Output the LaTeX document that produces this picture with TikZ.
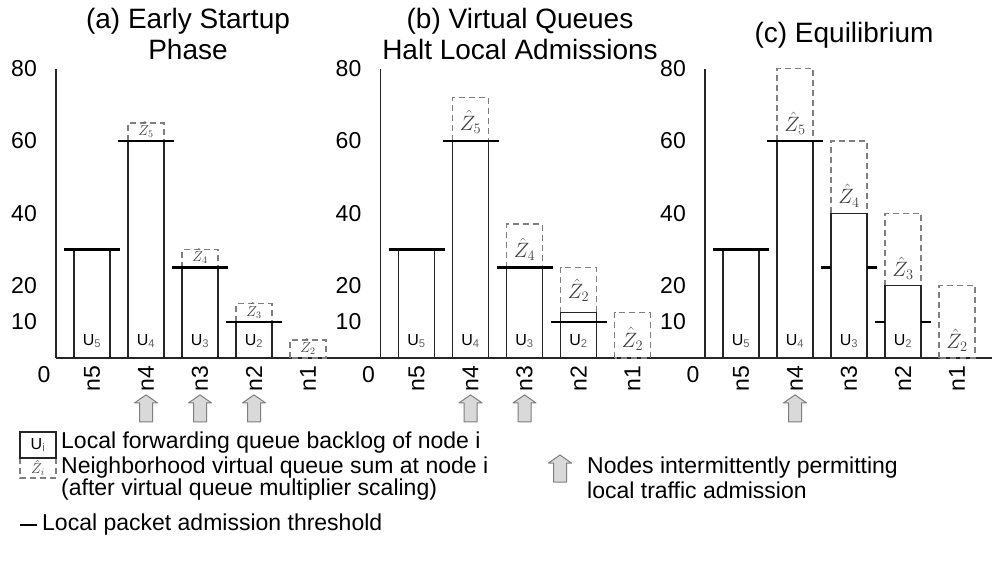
\documentclass[tikz,border=0pt]{standalone}
\usepackage{fontspec}
\setmainfont{Liberation Sans}
\definecolor{zgray}{HTML}{7F7F7F}
\definecolor{afill}{HTML}{D9D9D9}
\tikzset{
 barst/.style={draw=black!85, line width=1.4pt},
 thr/.style={draw=black, line width=2.6pt},
 zbox/.style={draw=zgray, line width=1.4pt, dash pattern=on 6pt off 4pt},
 axisst/.style={draw=black!85, line width=1.4pt},
 ttl/.style={font=\fontsize{28}{31}\selectfont, align=center, inner sep=0pt},
 tick/.style={font=\fontsize{23}{25}\selectfont, inner sep=0pt},
 ulab/.style={font=\fontsize{16}{18}\selectfont, inner sep=0pt},
 zlab/.style={font=\fontsize{20}{22}\selectfont, text=black!75, inner sep=0pt, anchor=base},
 zlabs/.style={font=\fontsize{14}{16}\selectfont, text=black!75, inner sep=0pt, anchor=base},
 leg/.style={font=\fontsize{23}{22}\selectfont, align=left, inner sep=0pt, anchor=west},
 arrst/.style={draw=zgray, fill=afill, line width=1pt, line join=round},
 uparr/.pic={\draw[arrst] (0pt,0pt) -- (11.5pt,-8pt) -- (6.5pt,-8pt) -- (6.5pt,-27pt) -- (-6.5pt,-27pt) -- (-6.5pt,-8pt) -- (-11.5pt,-8pt) -- cycle;}
}
\newcommand{\ulbl}[1]{U\textsubscript{\textcolor{black!60}{#1}}}
\begin{document}
\begin{tikzpicture}[x=1pt,y=-1pt]
\useasboundingbox[fill=white] (0,0) rectangle (992,572);

% titles
\node[ttl] (ta) at (188,34) {(a) Early Startup\\Phase};
\node[ttl] (tb) at (520,34) {(b) Virtual Queues\\Halt Local Admissions};
\node[ttl] (tc) at (844,35) {(c) Equilibrium};

% common baseline
\coordinate (bl0) at (56,358);
\coordinate (bl1) at (992,358);
\draw[axisst] (bl0) -- (bl1);

% ---------------- panel (a)
\begin{scope}[shift={(56,358)}, x=1pt, y=3.617pt]
\draw[axisst] (0,0) -- (0,80);
\node[tick, anchor=east] (a80) at (-19,80) {80};
\node[tick, anchor=east] (a60) at (-19,60) {60};
\node[tick, anchor=east] (a40) at (-19,40) {40};
\node[tick, anchor=east] (a20) at (-19,20) {20};
\node[tick, anchor=east] (a10) at (-19,10) {10};
\node[tick] (a0) at (-12,-4.7) {0};
% n5
\draw[barst] (18,0) rectangle (54,30);
\draw[thr] (8,30) -- (64,30);
% n4
\draw[zbox] (72,60) rectangle (108,65);
\draw[barst] (72,0) rectangle (108,60);
\draw[thr] (62,60) -- (118,60);
\node[zlabs] (az5) at (90,61.6) {$\hat{Z}_5$};
% n3
\draw[zbox] (126,25) rectangle (162,30);
\draw[barst] (126,0) rectangle (162,25);
\draw[thr] (116,25) -- (172,25);
\node[zlabs] (az4) at (144,26.6) {$\hat{Z}_4$};
% n2
\draw[zbox] (180,10) rectangle (216,15);
\draw[barst] (180,0) rectangle (216,10);
\draw[thr] (170,10) -- (226,10);
\node[zlabs] (az3) at (198,11.6) {$\hat{Z}_3$};
% n1
\draw[zbox] (234,0) rectangle (270,5);
\node[zlabs] (az2) at (252,1.6) {$\hat{Z}_2$};
% U labels
\node[ulab] (au5) at (36,4.7) {\ulbl{5}};
\node[ulab] (au4) at (90,4.7) {\ulbl{4}};
\node[ulab] (au3) at (144,4.7) {\ulbl{3}};
\node[ulab] (au2) at (198,4.7) {\ulbl{2}};
% ticks
\node[tick, rotate=90] (an5) at (36,-5.8) {n5};
\node[tick, rotate=90] (an4) at (90,-5.8) {n4};
\node[tick, rotate=90] (an3) at (144,-5.8) {n3};
\node[tick, rotate=90] (an2) at (198,-5.8) {n2};
\node[tick, rotate=90] (an1) at (252,-5.8) {n1};
\pic at (90,-10.2) {uparr};
\pic at (144,-10.2) {uparr};
\pic at (198,-10.2) {uparr};
\end{scope}

% ---------------- panel (b)
\begin{scope}[shift={(380.5,358)}, x=1pt, y=3.617pt]
\draw[axisst] (0,0) -- (0,80);
\node[tick, anchor=east] (b80) at (-19,80) {80};
\node[tick, anchor=east] (b60) at (-19,60) {60};
\node[tick, anchor=east] (b40) at (-19,40) {40};
\node[tick, anchor=east] (b20) at (-19,20) {20};
\node[tick, anchor=east] (b10) at (-19,10) {10};
\node[tick] (b0) at (-12,-4.7) {0};
% n5
\draw[barst] (18,0) rectangle (54,30);
\draw[thr] (8,30) -- (64,30);
% n4
\draw[zbox] (72,60) rectangle (108,72);
\draw[barst] (72,0) rectangle (108,60);
\draw[thr] (62,60) -- (118,60);
\node[zlab] (bz5) at (90,63) {$\hat{Z}_5$};
% n3
\draw[zbox] (126,25) rectangle (162,37);
\draw[barst] (126,0) rectangle (162,25);
\draw[thr] (116,25) -- (172,25);
\node[zlab] (bz4) at (144,27.8) {$\hat{Z}_4$};
% n2
\draw[zbox] (180,12.5) rectangle (216,25);
\draw[barst] (180,0) rectangle (216,12.5);
\draw[thr] (170,10) -- (226,10);
\node[zlab] (bz3) at (198,16.5) {$\hat{Z}_2$};
% n1
\draw[zbox] (234,0) rectangle (270,12.5);
\node[zlab] (bz2) at (252,3) {$\hat{Z}_2$};
% U labels
\node[ulab] (bu5) at (36,4.7) {\ulbl{5}};
\node[ulab] (bu4) at (90,4.7) {\ulbl{4}};
\node[ulab] (bu3) at (144,4.7) {\ulbl{3}};
\node[ulab] (bu2) at (198,4.7) {\ulbl{2}};
% ticks
\node[tick, rotate=90] (bn5) at (36,-5.8) {n5};
\node[tick, rotate=90] (bn4) at (90,-5.8) {n4};
\node[tick, rotate=90] (bn3) at (144,-5.8) {n3};
\node[tick, rotate=90] (bn2) at (198,-5.8) {n2};
\node[tick, rotate=90] (bn1) at (252,-5.8) {n1};
\pic at (90,-10.2) {uparr};
\pic at (144,-10.2) {uparr};
\end{scope}

% ---------------- panel (c)
\begin{scope}[shift={(705,358)}, x=1pt, y=3.617pt]
\draw[axisst] (0,0) -- (0,80);
\node[tick, anchor=east] (c80) at (-19,80) {80};
\node[tick, anchor=east] (c60) at (-19,60) {60};
\node[tick, anchor=east] (c40) at (-19,40) {40};
\node[tick, anchor=east] (c20) at (-19,20) {20};
\node[tick, anchor=east] (c10) at (-19,10) {10};
\node[tick] (c0) at (-12,-4.7) {0};
% n5
\draw[barst] (18,0) rectangle (54,30);
\draw[thr] (8,30) -- (64,30);
% n4
\draw[zbox] (72,60) rectangle (108,80);
\draw[barst] (72,0) rectangle (108,60);
\draw[thr] (62,60) -- (118,60);
\node[zlab] (cz5) at (90,62.6) {$\hat{Z}_5$};
% n3
\draw[zbox] (126,40) rectangle (162,60);
\draw[barst] (126,0) rectangle (162,40);
\draw[thr] (116,25) -- (126,25);
\draw[thr] (162,25) -- (172,25);
\node[zlab] (cz4) at (144,42.6) {$\hat{Z}_4$};
% n2
\draw[zbox] (180,20) rectangle (216,40);
\draw[barst] (180,0) rectangle (216,20);
\draw[thr] (170,10) -- (180,10);
\draw[thr] (216,10) -- (226,10);
\node[zlab] (cz3) at (198,22.6) {$\hat{Z}_3$};
% n1
\draw[zbox] (234,0) rectangle (270,20);
\node[zlab] (cz2) at (252,2.6) {$\hat{Z}_2$};
% U labels
\node[ulab] (cu5) at (36,4.7) {\ulbl{5}};
\node[ulab] (cu4) at (90,4.7) {\ulbl{4}};
\node[ulab] (cu3) at (144,4.7) {\ulbl{3}};
\node[ulab] (cu2) at (198,4.7) {\ulbl{2}};
% ticks
\node[tick, rotate=90] (cn5) at (36,-5.8) {n5};
\node[tick, rotate=90] (cn4) at (90,-5.8) {n4};
\node[tick, rotate=90] (cn3) at (144,-5.8) {n3};
\node[tick, rotate=90] (cn2) at (198,-5.8) {n2};
\node[tick, rotate=90] (cn1) at (252,-5.8) {n1};
\pic at (90,-10.2) {uparr};
\end{scope}

% ---------------- legend
\draw[zbox] (20,458) rectangle (56,478);
\draw[barst] (20,432) rectangle (56,458);
\node[ulab] (lu) at (38,445) {U\textsubscript{\textcolor{black!60}{i}}};
\node[zlabs, anchor=center] (lz) at (38,468) {$\hat{Z}_i$};
\node[leg] (lt1) at (61,443) {Local forwarding queue backlog of node i};
\node[leg, anchor=north west] (lt2) at (61,457) {Neighborhood virtual queue sum at node i\\(after virtual queue multiplier scaling)};
\coordinate (lth0) at (20,525);
\coordinate (lth1) at (37,525);
\draw[thr, line width=2pt] (lth0) -- (lth1);
\node[leg] (lt3) at (42,525) {Local packet admission threshold};
\pic at (560,455) {uparr};
\node[leg, anchor=north west, font=\fontsize{23}{25}\selectfont] (lt4) at (587,457) {Nodes intermittently permitting\\local traffic admission};
\end{tikzpicture}
\end{document}
